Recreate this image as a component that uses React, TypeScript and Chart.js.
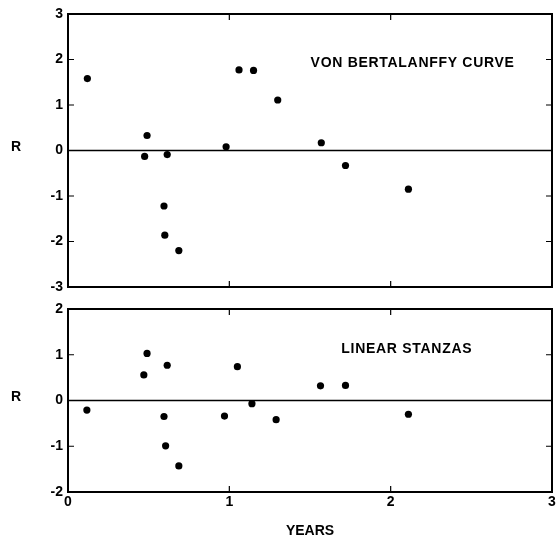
import { useEffect, useRef } from "react";
import { Chart, registerables } from "chart.js";
Chart.register(...registerables);

// Top panel: von Bertalanffy curve residuals
const VB_YEARS = [0.12, 0.49, 0.475, 0.615, 0.595, 0.6, 0.687, 0.98, 1.06, 1.15, 1.3, 1.57, 1.72, 2.11];
const VB_R = [1.58, 0.33, -0.13, -0.09, -1.22, -1.86, -2.2, 0.08, 1.77, 1.76, 1.11, 0.17, -0.33, -0.85];
// Bottom panel: linear stanzas residuals
const LS_YEARS = [0.117, 0.49, 0.47, 0.615, 0.595, 0.605, 0.687, 0.97, 1.05, 1.14, 1.29, 1.565, 1.72, 2.11];
const LS_R = [-0.21, 1.03, 0.56, 0.77, -0.35, -0.99, -1.43, -0.34, 0.74, -0.07, -0.42, 0.32, 0.33, -0.3];

const X_TICKS = [0, 1, 2, 3];
const TOP_R_TICKS = [-3, -2, -1, 0, 1, 2, 3];
const BOTTOM_R_TICKS = [-2, -1, 0, 1, 2];

const FONT = "'Liberation Sans', Arial, sans-serif";

const framePlugin = {
  id: "frame",
  afterDraw(chart: any, _args: any, opts: any) {
    const { ctx, chartArea: a, scales } = chart;
    const xs = scales.x;
    const ys = scales.y;
    ctx.save();
    ctx.strokeStyle = "#000";
    ctx.fillStyle = "#000";
    // zero line
    const y0 = ys.getPixelForValue(0);
    ctx.lineWidth = 1.5;
    ctx.beginPath();
    ctx.moveTo(a.left, y0);
    ctx.lineTo(a.right, y0);
    ctx.stroke();
    // inward ticks
    ctx.lineWidth = 1.2;
    const tl = 6;
    ctx.beginPath();
    for (const v of opts.yTicks) {
      if (v === ys.min || v === ys.max || v === 0) continue;
      const y = ys.getPixelForValue(v);
      ctx.moveTo(a.left, y);
      ctx.lineTo(a.left + tl, y);
      ctx.moveTo(a.right - tl, y);
      ctx.lineTo(a.right, y);
    }
    for (const v of X_TICKS) {
      if (v === xs.min || v === xs.max) continue;
      const x = xs.getPixelForValue(v);
      ctx.moveTo(x, a.top);
      ctx.lineTo(x, a.top + tl);
      ctx.moveTo(x, a.bottom - tl);
      ctx.lineTo(x, a.bottom);
    }
    ctx.stroke();
    // frame
    ctx.lineWidth = 2;
    ctx.strokeRect(a.left, a.top, a.right - a.left, a.bottom - a.top);
    // texts
    ctx.font = `bold 14px ${FONT}`;
    ctx.textAlign = "center";
    ctx.textBaseline = "middle";
    ctx.fillText("R", 16, y0 - 3);
    if (opts.xTitle) {
      ctx.fillText(opts.xTitle, (a.left + a.right) / 2, opts.xTitleY);
    }
    (ctx as any).letterSpacing = "0.7px";
    ctx.fillText(
      opts.label,
      xs.getPixelForValue(opts.labelX),
      ys.getPixelForValue(opts.labelY)
    );
    (ctx as any).letterSpacing = "0px";
    ctx.restore();
  },
};

function makeChart(
  canvas: HTMLCanvasElement,
  xs: number[],
  ys: number[],
  yTicks: number[],
  bottom: boolean,
  label: string,
  labelX: number,
  labelY: number
) {
  return new Chart(canvas, {
    type: "scatter",
    data: {
      datasets: [
        {
          data: xs.map((x, i) => ({ x, y: ys[i] })),
          pointRadius: 3.6,
          pointBackgroundColor: "#000",
          pointBorderWidth: 0,
          showLine: false,
        },
      ],
    },
    options: {
      animation: false,
      responsive: false,
      events: [],
      layout: { padding: { top: bottom ? 9 : 14, right: 2, left: 0, bottom: 0 } },
      plugins: {
        legend: { display: false },
        tooltip: { enabled: false },
        frame: {
          yTicks,
          label,
          labelX,
          labelY,
          xTitle: bottom ? "YEARS" : null,
          xTitleY: 231,
        },
      } as any,
      scales: {
        x: {
          type: "linear",
          min: X_TICKS[0],
          max: X_TICKS[X_TICKS.length - 1],
          afterBuildTicks: (s: any) => {
            s.ticks = X_TICKS.map((v) => ({ value: v }));
          },
          afterFit: (s: any) => {
            s.height = bottom ? 47 : 13;
            s.paddingLeft = 0;
            s.paddingRight = 0;
          },
          grid: { display: false, drawTicks: false },
          border: { display: false },
          ticks: {
            display: bottom,
            color: "#000",
            padding: 2,
            font: { family: FONT, size: 14, weight: "bold" },
            callback: (v: any) => String(v),
          },
        },
        y: {
          type: "linear",
          min: yTicks[0],
          max: yTicks[yTicks.length - 1],
          afterBuildTicks: (s: any) => {
            s.ticks = yTicks.map((v) => ({ value: v }));
          },
          afterFit: (s: any) => {
            s.width = 68;
            s.paddingTop = 0;
            s.paddingBottom = 0;
          },
          grid: { display: false, drawTicks: false },
          border: { display: false },
          ticks: {
            color: "#000",
            padding: 5,
            font: { family: FONT, size: 14, weight: "bold" },
            callback: (v: any) => String(v),
          },
        },
      },
    },
    plugins: [framePlugin],
  } as any);
}

export default function App() {
  const topRef = useRef<HTMLCanvasElement>(null);
  const botRef = useRef<HTMLCanvasElement>(null);
  useEffect(() => {
    const c1 = makeChart(topRef.current!, VB_YEARS, VB_R, TOP_R_TICKS, false, "VON BERTALANFFY CURVE", 2.136, 1.92);
    const c2 = makeChart(botRef.current!, LS_YEARS, LS_R, BOTTOM_R_TICKS, true, "LINEAR STANZAS", 2.1, 1.13);
    return () => {
      c1.destroy();
      c2.destroy();
    };
  }, []);
  return (
    <div style={{ position: "fixed", left: 0, top: 0, width: 556, height: 539, background: "#fff" }}>
      <canvas ref={topRef} width={556} height={300} style={{ position: "absolute", left: 0, top: 0, display: "block" }} />
      <canvas ref={botRef} width={556} height={239} style={{ position: "absolute", left: 0, top: 300, display: "block" }} />
    </div>
  );
}
